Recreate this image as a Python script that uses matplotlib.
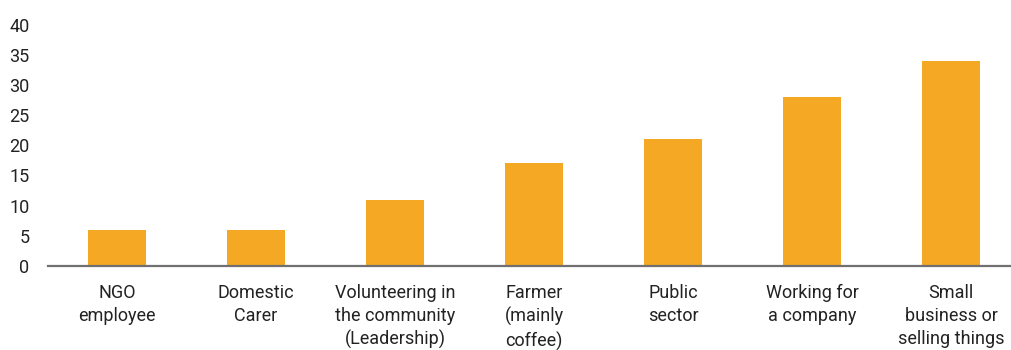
import matplotlib
matplotlib.use("Agg")
import matplotlib.pyplot as plt
from matplotlib import font_manager

categories = [
    "NGO\nemployee",
    "Domestic\nCarer",
    "Volunteering in\nthe community\n(Leadership)",
    "Farmer\n(mainly\ncoffee)",
    "Public\nsector",
    "Working for\na company",
    "Small\nbusiness or\nselling things",
]
values = [6, 6, 11, 17, 21, 28, 34]
yticks = [0, 5, 10, 15, 20, 25, 30, 35, 40]

available = {f.name for f in font_manager.fontManager.ttflist}
family = ["Liberation Sans Narrow", "Roboto", "DejaVu Sans"]
family = [f for f in family if f in available] or ["DejaVu Sans"]
plt.rcParams["font.family"] = family

fig = plt.figure(figsize=(10.11, 3.5), dpi=100)
# the plotting area runs slightly past the right edge of the canvas
ax = fig.add_axes([47.5 / 1011, 1 - 265.7 / 350, 973 / 1011, (265.7 - 25) / 350])
ax.spines["bottom"].set_clip_on(False)

x = range(len(categories))
ax.bar(x, values, width=0.417, color="#F5A823", zorder=2)

ax.set_xlim(-0.5, len(categories) - 0.5)
ax.set_ylim(0, 40)
ax.set_yticks(yticks)
ax.set_yticklabels([str(v) for v in yticks])
ax.set_xticks(list(x))
ax.set_xticklabels(categories, linespacing=1.35)

for side in ("top", "right", "left"):
    ax.spines[side].set_visible(False)
ax.spines["bottom"].set_color("#707070")
ax.spines["bottom"].set_linewidth(1.6)
ax.spines["bottom"].set_zorder(3)

ax.tick_params(axis="both", length=0, labelsize=13, labelcolor="#222222")
ax.tick_params(axis="y", pad=13)
ax.tick_params(axis="x", pad=13)

fig.savefig("out.png", dpi=100)
